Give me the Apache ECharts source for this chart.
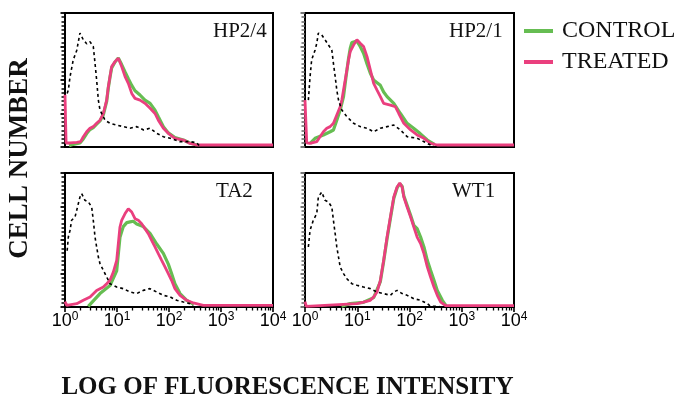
<!DOCTYPE html>
<html><head><meta charset="utf-8">
<script src="https://cdn.jsdelivr.net/npm/echarts@6/dist/echarts.min.js"></script>
<style>html,body{margin:0;padding:0;background:#fff}#c{width:680px;height:401px}</style>
</head><body><div id="c"></div>
<script>
// ---- data: [fluorescence intensity, cell count (relative)] ----
const panelNames = ['HP2/4', 'HP2/1', 'TA2', 'WT1'];
const legendNames = ['CONTROL', 'TREATED'];
const xTickValues = [1, 10, 100, 1000, 10000];
const xMinorTickValues = [2,3,4,5,6,7,8,9,20,30,40,50,60,70,80,90,200,300,400,500,600,700,800,900,2000,3000,4000,5000,6000,7000,8000,9000];

const hp24Iso = [[1.1,40],[1.16,42.5],[1.25,52.5],[1.44,65],[1.68,72],[1.94,85],[2.09,86],[2.25,80],[2.61,77],[3.02,78.6],[3.5,75],[3.78,62.5],[4.06,50],[4.38,35],[4.71,27.6],[5.88,20],[7.33,17.7],[9.86,16.4],[13.2,15.2],[17.8,14],[24,15.2],[32.5,12.7],[43.3,14],[58,10.2],[78,7.7],[105,6.5],[163,4],[253,4],[340,3.2],[400,0]];
const hp24Treated = [[1,39],[1.05,3],[1.25,3],[1.68,3.5],[2.0,4],[2.25,7.7],[2.61,11.4],[3.02,14],[3.5,15.2],[4.06,17.7],[4.71,20],[5.46,25],[6.33,35],[6.81,45],[7.33,52.5],[7.89,60],[9.16,63.7],[10.6,66.2],[12.3,60],[14.3,52.5],[16.5,47.5],[19.2,40],[22.2,36.3],[27.7,35],[34.5,32.6],[43.3,28.9],[53.8,25],[62.3,20],[78,14],[97,10.2],[130,6.5],[189,5.2],[253,2.7],[340,1.5],[10000,1.5]];
const hp24Control = [[1.2,1],[1.44,2],[1.94,3],[2.25,6],[2.61,10],[3.02,13],[3.5,14.5],[4.06,17],[4.71,19.5],[5.46,24],[6.33,34],[6.81,44],[7.33,52],[7.89,59],[9.16,63.5],[10.6,66.5],[12.3,61.5],[14.3,56],[16.5,51],[19.2,46],[22.2,42],[27.7,38.8],[34.5,35],[43.3,32.6],[53.8,27.5],[62.3,22.6],[78,15.2],[97,10.5],[130,7],[189,5.2],[253,3],[340,1.5]];

const hp21Iso = [[1.16,35],[1.25,52.5],[1.34,65],[1.56,72.4],[1.68,77.4],[1.8,85],[2.09,83.6],[2.42,80],[2.81,76.1],[3.26,72.4],[3.5,62.4],[3.78,52.5],[4.06,42.5],[4.38,35],[5.07,27.6],[6.33,22.6],[8.5,17.7],[11.4,15.2],[15.4,14],[20.6,11.4],[27.7,14],[37.2,15.2],[50,16.4],[67,12.7],[90,7.7],[140,6.5],[219,2.7],[300,0]];
const hp21Treated = [[1,35],[1.08,3],[1.25,2.7],[1.68,4],[1.94,7.7],[2.25,11.4],[2.61,14],[3.03,15.2],[3.5,17.7],[4.06,23.9],[4.71,30],[5.07,35],[5.46,42.5],[5.88,50],[6.33,57.5],[6.81,65],[7.33,71.1],[8.5,76.1],[9.86,80],[11.4,77.4],[13.2,75],[15.4,67.4],[17.8,57.5],[20.6,47.5],[23.9,42.5],[27.7,37.6],[32,32.6],[43.1,31.3],[53.8,30],[62.3,25],[77.8,17.7],[105,12.7],[140,9],[189,6.5],[253,2.7],[340,1.5],[10000,1.5]];
const hp21Control = [[1.25,2.7],[1.56,6.5],[2.25,9],[3.03,11.4],[3.5,12.7],[4.06,20],[4.71,27.6],[5.46,37.6],[5.88,47.5],[6.33,57],[6.81,66],[7.33,73.5],[7.89,78],[8.5,79],[9.86,79],[11.4,75],[13.2,70],[15.4,62],[17.8,55],[20.6,50],[23.9,48],[27.7,46],[32,41],[37.2,37.6],[50,32.6],[67,25],[90,17.7],[120,14],[160,10],[219,5.2],[300,2]];

const ta2Iso = [[1.1,42],[1.16,52.2],[1.25,57.2],[1.34,64.7],[1.56,67.2],[1.68,72.2],[1.94,82.1],[2.09,84.6],[2.42,79.6],[2.81,78.4],[3.26,74.6],[3.5,64.7],[3.78,52.2],[4.06,44.8],[4.38,37.3],[4.71,32.3],[5.46,27.4],[6.33,22.4],[7.33,17.4],[9.86,14.9],[13.2,13.7],[17.8,11.2],[23.9,10],[32,12.4],[43.1,13.7],[58,11.2],[77.8,8.7],[105,7.5],[140,5],[189,3.7],[253,2.5],[300,0]];
const ta2Treated = [[1,4],[1.08,1.2],[1.68,2.5],[2.25,5],[3.03,7.5],[4.06,12.4],[5.46,14.9],[6.33,17.4],[7.33,19.9],[8.5,26.1],[9.86,34.8],[10.6,47.3],[11.4,59.7],[12.3,64.7],[14.3,69.7],[16.5,73.4],[19.2,70.9],[22.2,65.9],[25.7,64.7],[29.8,62.2],[34.5,58.5],[40,54.7],[46.4,49.8],[53.8,44.8],[62.3,39.8],[72.3,34.8],[83.7,29.9],[97,24.9],[112,19.9],[130,13.7],[163,8.7],[219,5],[294,3],[457,1.2],[10000,1.2]];
const ta2Control = [[2.8,0.5],[4.71,10],[7.33,16],[9.86,27],[11.4,52],[13.2,60],[15.4,63],[17.8,63.5],[20.6,64],[23.9,62],[32,60],[43.1,55],[58,47],[77.8,40],[97,32],[112,25],[130,17.4],[163,10],[219,5],[300,2]];

const wt1Iso = [[1.16,44.8],[1.25,57.2],[1.44,64.7],[1.68,69.7],[1.8,82.1],[2.09,85.8],[2.42,79.6],[2.81,78.4],[3.26,74.6],[3.5,64.7],[3.78,54.7],[4.06,44.8],[4.38,37.3],[4.71,29.9],[5.46,24.9],[6.33,21.1],[7.89,17.4],[9.86,16.2],[13.2,14.9],[17.8,13.7],[23.9,11.2],[32,10],[43.1,8.7],[50,11.2],[58,12.4],[72.3,10],[90,8.7],[121,6.2],[163,5],[219,2.5],[253,0.5],[340,0.5],[400,0]];
const wt1Treated = [[1,4],[1.06,0.5],[9.86,2.5],[13.2,3.7],[17.8,5],[20.6,7.5],[23.9,11.2],[27.7,19.9],[32,34.8],[37.2,52.2],[43.1,67.2],[50,82.1],[58,89.6],[65.2,92.6],[72.3,89.6],[77.8,82.1],[90,74.6],[105,67.2],[121,59.7],[140,52.2],[163,47.3],[189,39.8],[219,29.9],[253,22.4],[294,14.9],[340,8.7],[395,3.7],[492,1],[10000,1]];
const wt1Control = [[5,0.5],[7.33,2.5],[13.2,3.5],[20.6,7],[27.7,19],[32,34],[37.2,51],[43.1,66],[50,81],[58,89],[65.2,92],[72.3,90],[77.8,83],[90,76],[105,68.5],[121,61],[140,58.5],[163,52.2],[189,44.8],[219,34.8],[253,27.4],[294,19.9],[340,12.4],[425,5],[500,1]];

const isoData = [hp24Iso, hp21Iso, ta2Iso, wt1Iso];
const treatedData = [hp24Treated, hp21Treated, ta2Treated, wt1Treated];
const controlData = [hp24Control, hp21Control, ta2Control, wt1Control];

// ---- layout / style ----
const GREEN = '#66bd52', PINK = '#ea3f7e';
const grids = [
  {left: 65, top: 13, width: 208, height: 134},
  {left: 305, top: 13, width: 209, height: 134},
  {left: 65, top: 173, width: 208, height: 134},
  {left: 305, top: 173, width: 209, height: 134}
];
const titlePos = [[213, 31.5], [449, 31.5], [216, 191.5], [452, 191.5]];
const tickFont = '"Liberation Sans",Arial,sans-serif';
const serif = '"Liberation Serif","Times New Roman",serif';

const xAxes = [];
grids.forEach((g, i) => {
  const bottom = i >= 2;
  xAxes.push({
    type: 'log', logBase: 10, min: 1, max: 10000, gridIndex: i, position: 'bottom', offset: 0,
    axisLine: {show: false},
    axisTick: {show: bottom, length: 5, customValues: xTickValues, lineStyle: {color: '#000', width: 1.6}},
    minorTick: {show: false},
    splitLine: {show: false}, minorSplitLine: {show: false},
    axisLabel: {
      show: bottom, margin: 4, customValues: xTickValues,
      formatter: v => '{b|10}{s|' + Math.round(Math.log10(v)) + '}',
      rich: {
        b: {fontFamily: tickFont, fontSize: 18, color: '#000', lineHeight: 19, verticalAlign: 'bottom'},
        s: {fontFamily: tickFont, fontSize: 12, color: '#000', lineHeight: 13, verticalAlign: 'top'}
      },
      lineHeight: 27
    }
  });
});
// overlay axes carrying the log-style minor ticks on the bottom panels
[2, 3].forEach(i => {
  xAxes.push({
    type: 'log', logBase: 10, min: 1, max: 10000, gridIndex: i, position: 'bottom', offset: 0,
    axisLine: {show: false}, axisLabel: {show: false}, splitLine: {show: false}, minorSplitLine: {show: false},
    axisTick: {show: true, length: 3.5, customValues: xMinorTickValues, lineStyle: {color: '#000', width: 1.3}}
  });
});

const option = {
  animation: false,
  backgroundColor: '#fff',
  grid: grids.map(g => Object.assign({show: true, borderColor: '#000', borderWidth: 2, backgroundColor: 'transparent', containLabel: false, outerBoundsMode: 'none'}, g)),
  legend: {
    data: legendNames, orient: 'vertical', left: 524, top: 19, padding: 0, itemWidth: 29, itemHeight: 4,
    itemGap: 7, icon: 'rect', selectedMode: false,
    textStyle: {fontFamily: serif, fontSize: 24, color: '#111', padding: [0, 0, 0, 4]}
  },
  xAxis: xAxes,
  yAxis: grids.map((g, i) => {
    const c = (i % 2 === 0) ? '#000' : '#666';
    return {
      type: 'value', min: 0, max: 100, interval: 25, gridIndex: i,
      axisLine: {show: false}, axisLabel: {show: false}, splitLine: {show: false}, minorSplitLine: {show: false},
      axisTick: {show: true, length: 4.5, lineStyle: {color: c, width: 1.8}},
      minorTick: {show: true, splitNumber: 8, length: 3.5, lineStyle: {color: c, width: 1.5}}
    };
  }),
  graphic: [
    {type: 'text', x: 20.5, y: 158.5, rotation: Math.PI / 2,
     style: {text: 'CELL NUMBER', fontFamily: serif, fontWeight: 'bold', fontSize: 27, fill: '#111', align: 'center', verticalAlign: 'middle'}},
    {type: 'text', x: 287.5, y: 388,
     style: {text: 'LOG OF FLUORESCENCE INTENSITY', fontFamily: serif, fontWeight: 'bold', fontSize: 25, fill: '#111', align: 'center', verticalAlign: 'middle'}}
  ].concat(panelNames.map((n, i) => ({
    type: 'text', x: titlePos[i][0], y: titlePos[i][1],
    style: {text: n, fontFamily: serif, fontSize: 21, fill: '#111', align: 'left', verticalAlign: 'middle'}
  }))),
  series: []
};

for (let i = 0; i < 4; i++) {
  option.series.push({
    name: 'CONTROL', type: 'line', xAxisIndex: i, yAxisIndex: i, data: controlData[i],
    symbol: 'none', silent: true, itemStyle: {color: GREEN}, lineStyle: {color: GREEN, width: 3.2}
  });
  option.series.push({
    name: 'TREATED', type: 'line', xAxisIndex: i, yAxisIndex: i, data: treatedData[i],
    symbol: 'none', silent: true, itemStyle: {color: PINK}, lineStyle: {color: PINK, width: 2.8}
  });
  option.series.push({
    name: 'ISOTYPE', type: 'line', xAxisIndex: i, yAxisIndex: i, data: isoData[i],
    symbol: 'none', silent: true, itemStyle: {color: '#000'}, lineStyle: {color: '#000', width: 1.6, type: [3, 3]}
  });
}

const chart = echarts.init(document.getElementById('c'), null, {renderer: 'canvas'});
chart.setOption(option);
</script>
</body></html>
